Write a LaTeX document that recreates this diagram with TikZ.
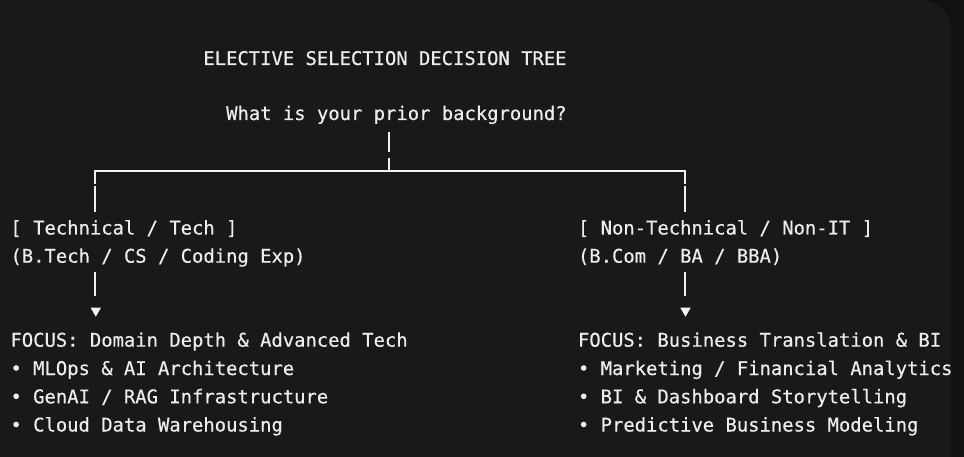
\documentclass[tikz,border=0pt]{standalone}
\usepackage{fontspec}
\newfontfamily\monofam[FakeBold=0.4]{DejaVu Sans Mono}
\definecolor{outerbg}{HTML}{111111}
\definecolor{panelbg}{HTML}{191919}
\definecolor{txt}{HTML}{EDEDED}
\definecolor{lin}{HTML}{F2F2F2}
\begin{document}
\begin{tikzpicture}[x=1pt,y=-1pt,
  lbl/.style={inner sep=0pt, outer sep=0pt, anchor=base west, text=txt,
    font=\monofam\fontsize{18.85}{22}\selectfont},
  conn/.style={draw=lin, line width=2pt, line cap=butt, line join=miter},
  tip/.style={fill=lin, draw=none}]
\useasboundingbox (0,0) rectangle (964,457);
\fill[outerbg] (0,0) rectangle (964,457);
\fill[panelbg, rounded corners=30pt] (-40,0) rectangle (951,520);
% texts
\node[lbl] (title) at (203.4,65) {ELECTIVE SELECTION DECISION TREE};
\node[lbl] (q) at (226.2,120) {What is your prior background?};
\node[lbl] (tech) at (10.5,234.5) {[ Technical / Tech ]};
\node[lbl] (techsub) at (10.5,262.7) {(B.Tech / CS / Coding Exp)};
\node[lbl] (non) at (578,234.5) {[ Non-Technical / Non-IT ]};
\node[lbl] (nonsub) at (578,262.7) {(B.Com / BA / BBA)};
\node[lbl] (fl) at (10.5,346.7) {FOCUS: Domain Depth \& Advanced Tech};
\node[lbl] (fla) at (10.5,375) {• MLOps \& AI Architecture};
\node[lbl] (flb) at (10.5,403.3) {• GenAI / RAG Infrastructure};
\node[lbl] (flc) at (10.5,431.5) {• Cloud Data Warehousing};
\node[lbl] (fr) at (578,346.7) {FOCUS: Business Translation \& BI};
\node[lbl] (fra) at (578,375) {• Marketing / Financial Analytics};
\node[lbl] (frb) at (578,403.3) {• BI \& Dashboard Storytelling};
\node[lbl] (frc) at (578,431.5) {• Predictive Business Modeling};
% junction coordinates
\coordinate (jq) at (389,171);
\coordinate (jl) at (95,171);
\coordinate (jr) at (684.7,171);
% question stem
\draw[conn] (389,131.7) -- (389,152.3);
\draw[conn] (389,158.3) -- (jq);
% branch bar
\draw[conn] (95,184) -- (jl) -- (jr) -- (684.7,184);
\draw[conn] (95,186) -- (95,211.7);
\draw[conn] (684.7,186) -- (684.7,211.7);
% down to focus
\draw[conn] (95,271.7) -- (95,296);
\draw[conn] (684.7,271.7) -- (684.7,296);
\fill[tip] (90.6,307.7) -- (101,307.7) -- (95.8,316.7) -- cycle;
\fill[tip] (680.3,307.7) -- (690.7,307.7) -- (685.5,316.7) -- cycle;
\end{tikzpicture}
\end{document}
